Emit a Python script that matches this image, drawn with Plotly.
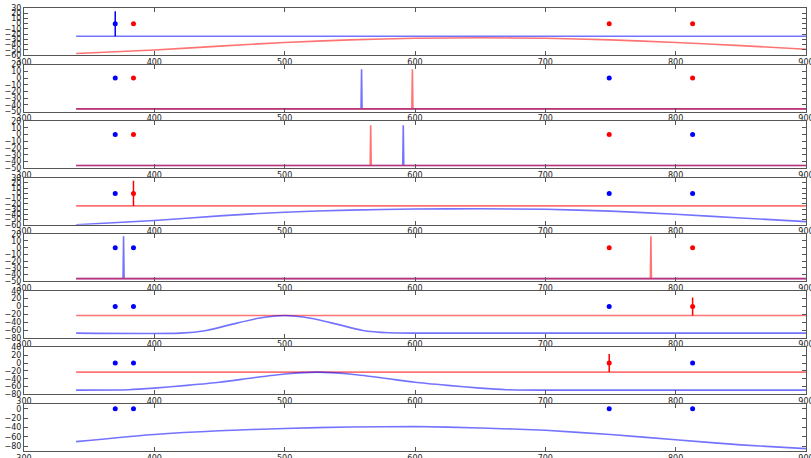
import plotly.graph_objects as go

# ---------------------------------------------------------------- data ----
WAVE_RANGE = [300, 900]

# positions of the four band markers (nm) and their plotted level
band_x = [370, 384, 749, 813]
band_y = [0, 0, 0, 0]

# marker colour of each band, one row per panel (top to bottom)
band_colours = [
    ["blue", "red", "red", "red"],
    ["blue", "red", "blue", "red"],
    ["blue", "red", "red", "blue"],
    ["blue", "red", "blue", "blue"],
    ["blue", "blue", "red", "red"],
    ["blue", "blue", "blue", "red"],
    ["blue", "blue", "red", "blue"],
    ["blue", "blue", "blue", "blue"],
]
# (band index, half-width) of the error bar drawn in each panel
band_errors = [(0, 24), None, None, (1, 24), None, (3, 23), (2, 23), None]

# y-axis ranges and tick steps per panel
y_ranges = [[-60, 30], [-50, 20], [-50, 20], [-60, 30],
            [-50, 20], [-80, 40], [-80, 40], [-90, 10]]
y_ticks = [
    list(range(-60, 31, 10)), list(range(-50, 21, 10)), list(range(-50, 21, 10)),
    list(range(-60, 31, 10)), list(range(-50, 21, 10)), list(range(-80, 41, 20)),
    list(range(-80, 41, 20)), list(range(-80, 1, 20)),
]

# panel 1
p1_blue_x = [340, 900]
p1_blue_y = [-24, -24]
p1_red_x = [340, 400, 450, 500, 550, 600, 650, 700, 750, 800, 850, 900]
p1_red_y = [-57, -50.5, -43, -36, -31, -28, -27, -28, -31, -36, -42, -49]

# panel 2
p2_blue_x = [340, 558.6, 559, 559.4, 900]
p2_blue_y = [-46, -46, 13, -46, -46]
p2_red_x = [340, 597.6, 598, 598.4, 900]
p2_red_y = [-46, -46, 13, -46, -46]

# panel 3
p3_blue_x = [340, 590.6, 591, 591.4, 900]
p3_blue_y = [-46, -46, 14, -46, -46]
p3_red_x = [340, 565.6, 566, 566.4, 900]
p3_red_y = [-46, -46, 14, -46, -46]

# panel 4
p4_red_x = [340, 900]
p4_red_y = [-24, -24]
p4_blue_x = [340, 400, 450, 500, 550, 600, 650, 700, 750, 800, 850, 900]
p4_blue_y = [-60, -52, -43, -36, -32, -30, -29.5, -30.5, -34, -40, -47, -54]

# panel 5
p5_blue_x = [340, 376, 376.4, 376.8, 900]
p5_blue_y = [-46, -46, 17, -46, -46]
p5_red_x = [340, 780.6, 781, 781.4, 900]
p5_red_y = [-46, -46, 17, -46, -46]

# panel 6
p6_red_x = [340, 900]
p6_red_y = [-23, -23]
p6_blue_x = [340, 420, 440, 460, 480, 500, 520, 540, 560, 580, 600, 900]
p6_blue_y = [-68, -68, -61, -45, -30, -23, -30, -45, -61, -67, -68, -68]

# panel 7
p7_red_x = [340, 900]
p7_red_y = [-23, -23]
p7_blue_x = [340, 380, 400, 425, 450, 475, 500, 525, 550, 575, 600, 625, 650, 670, 700, 900]
p7_blue_y = [-69, -68, -64, -57, -49, -38, -28, -23, -28, -38, -49, -57, -64, -68, -69, -69]

# panel 8
p8_blue_x = [340, 400, 450, 500, 550, 600, 650, 700, 750, 800, 850, 900]
p8_blue_y = [-70, -55, -47, -42, -39, -38, -41, -46, -55, -66, -77, -85]

# (colour, x, y, smooth) for every spectrum line in each panel
panel_lines = [
    [("blue", p1_blue_x, p1_blue_y, False), ("red", p1_red_x, p1_red_y, True)],
    [("blue", p2_blue_x, p2_blue_y, False), ("red", p2_red_x, p2_red_y, False)],
    [("blue", p3_blue_x, p3_blue_y, False), ("red", p3_red_x, p3_red_y, False)],
    [("red", p4_red_x, p4_red_y, False), ("blue", p4_blue_x, p4_blue_y, True)],
    [("blue", p5_blue_x, p5_blue_y, False), ("red", p5_red_x, p5_red_y, False)],
    [("red", p6_red_x, p6_red_y, False), ("blue", p6_blue_x, p6_blue_y, True)],
    [("red", p7_red_x, p7_red_y, False), ("blue", p7_blue_x, p7_blue_y, True)],
    [("blue", p8_blue_x, p8_blue_y, True)],
]

# ---------------------------------------------------------------- style ---
W, H = 811, 458
M_L, M_R, M_T, M_B = 24, 5, 8, 7
PANEL_H = 47
FONT = dict(family="DejaVu Sans", size=8, color="#222")
LINE_RGBA = {"blue": "rgba(0,0,255,0.55)", "red": "rgba(255,0,0,0.55)"}
SOLID = {"blue": "#0000ff", "red": "#ff0000"}

plot_h = H - M_T - M_B
panel_step = (plot_h - PANEL_H) / 7
fig = go.Figure()
layout = {}

for i in range(8):
    sfx = "" if i == 0 else str(i + 1)
    xa, ya = "x" + sfx, "y" + sfx

    top_px = i * panel_step
    bot_px = top_px + PANEL_H
    domain = [max(0.0, 1 - bot_px / plot_h), min(1.0, 1 - top_px / plot_h)]

    for colour, xs, ys, smooth in panel_lines[i]:
        line = dict(color=LINE_RGBA[colour], width=1.6)
        if smooth:
            line.update(shape="spline", smoothing=0.6)
        fig.add_trace(go.Scatter(
            x=xs, y=ys, mode="lines", xaxis=xa, yaxis=ya, line=line,
            showlegend=False, hoverinfo="skip"))

    err = band_errors[i]
    for k in range(4):
        e = None
        if err is not None and err[0] == k:
            e = dict(type="data", array=[err[1]], visible=True,
                     color=SOLID[band_colours[i][k]], thickness=1.5, width=0)
        fig.add_trace(go.Scatter(
            x=[band_x[k]], y=[band_y[k]], mode="markers", xaxis=xa, yaxis=ya,
            marker=dict(color=SOLID[band_colours[i][k]], size=5),
            error_y=e, showlegend=False, hoverinfo="skip"))

    axis_common = dict(showline=True, linecolor="#555", linewidth=1, mirror="ticks",
                       ticks="inside", ticklen=4, tickcolor="#555", showgrid=False,
                       zeroline=False, tickfont=FONT, automargin=False,
                       ticklabeloverflow="allow")
    layout["xaxis" + sfx] = dict(axis_common, range=WAVE_RANGE, tickvals=list(range(300, 901, 100)),
                                 anchor=ya, domain=[0, 1], ticklabelstandoff=-1)
    layout["yaxis" + sfx] = dict(axis_common, range=y_ranges[i], tickvals=y_ticks[i],
                                 anchor=xa, domain=domain)

fig.update_layout(
    width=W, height=H, margin=dict(l=M_L, r=M_R, t=M_T, b=M_B),
    plot_bgcolor="white", paper_bgcolor="white", **layout)

fig.write_html("out.html")
